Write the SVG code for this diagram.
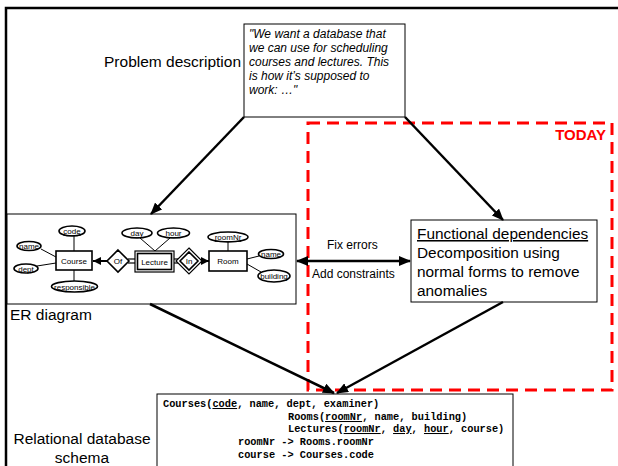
<svg xmlns="http://www.w3.org/2000/svg" width="618" height="466" viewBox="0 0 618 466">
<defs>
<marker id="ah" markerUnits="userSpaceOnUse" markerWidth="12" markerHeight="10" refX="11" refY="5" orient="auto-start-reverse">
<path d="M0,0 L12,5 L0,10 Z" fill="#000"/>
</marker>
<marker id="ahs" markerUnits="userSpaceOnUse" markerWidth="8" markerHeight="8" refX="8" refY="4" orient="auto">
<path d="M0,0 L8,4 L0,8 Z" fill="#000"/>
</marker>
</defs>
<style>
.t{font-family:"Liberation Sans",Arial,sans-serif;fill:#000}
.big{font-size:15.5px}
.q{font-size:12px;font-style:italic}
.sm{font-size:12px}
.er{font-size:8px}
.fdt{font-size:15.4px}
.mono{font-family:"Liberation Mono","Courier New",monospace;font-size:10.3px;font-weight:bold;fill:#000}
.box{fill:#fff;stroke:#000;stroke-width:1}
.conn{fill:none;stroke:#000;stroke-width:2.5}
.el{fill:#fff;stroke:#000;stroke-width:1.6}
.eline{stroke:#000;stroke-width:1;fill:none}
</style>
<rect width="618" height="466" fill="#fff"/>
<path d="M6,466 V8 H618" fill="none" stroke="#000" stroke-width="2.5"/>

<g id="problem">
<text class="t big" x="241" y="67" text-anchor="end">Problem description</text>
<rect class="box" x="244" y="24" width="161" height="93"/>
<text class="t q" x="249" y="38">"We want a database that</text>
<text class="t q" x="249" y="52">we can use for scheduling</text>
<text class="t q" x="249" y="66">courses and lectures. This</text>
<text class="t q" x="249" y="80">is how it’s supposed to</text>
<text class="t q" x="249" y="94">work: …"</text>
</g>

<g id="today">
<rect x="308" y="123" width="304" height="267" fill="none" stroke="#f00" stroke-width="3" stroke-dasharray="12,7"/>
<text class="t" x="606" y="140" text-anchor="end" style="font-size:15px;font-weight:bold;fill:#f00">TODAY</text>
</g>

<g id="er">
<rect class="box" x="7" y="214" width="289" height="90"/>
<text class="t big" x="10" y="320">ER diagram</text>
<line class="eline" x1="74" y1="236" x2="74" y2="251"/>
<line class="eline" x1="41" y1="249" x2="56" y2="257"/>
<line class="eline" x1="37" y1="266" x2="56" y2="263"/>
<line class="eline" x1="74" y1="270" x2="74" y2="281"/>
<line class="eline" x1="140" y1="238" x2="155" y2="251"/>
<line class="eline" x1="170" y1="238" x2="155" y2="251"/>
<line class="eline" x1="228" y1="242" x2="228" y2="251"/>
<line class="eline" x1="247" y1="259" x2="259" y2="256"/>
<line class="eline" x1="247" y1="264" x2="261" y2="272"/>
<line x1="107" y1="261" x2="93" y2="261" stroke="#000" stroke-width="2" marker-end="url(#ahs)"/>
<line x1="128" y1="259" x2="136" y2="259" stroke="#000" stroke-width="1.2"/>
<line x1="128" y1="263" x2="136" y2="263" stroke="#000" stroke-width="1.2"/>
<line x1="173" y1="259" x2="180" y2="259" stroke="#000" stroke-width="1.2"/>
<line x1="173" y1="263" x2="180" y2="263" stroke="#000" stroke-width="1.2"/>
<line x1="200" y1="261" x2="209" y2="261" stroke="#000" stroke-width="2" marker-end="url(#ahs)"/>
<rect x="56" y="251" width="36" height="19" fill="#fff" stroke="#000" stroke-width="1.6"/>
<text class="t er" x="74" y="264" text-anchor="middle">Course</text>
<rect x="135" y="251" width="39" height="21" fill="#fff" stroke="#000" stroke-width="1.2"/>
<rect x="137.5" y="253.5" width="34" height="16" fill="#fff" stroke="#000" stroke-width="1.6"/>
<text class="t er" x="154.5" y="264.5" text-anchor="middle">Lecture</text>
<rect x="209" y="251" width="38" height="20" fill="#fff" stroke="#000" stroke-width="1.6"/>
<text class="t er" x="228" y="264" text-anchor="middle">Room</text>
<path d="M118,250 L129,261 L118,272 L107,261 Z" fill="#fff" stroke="#000" stroke-width="1.6"/>
<text class="t er" x="118" y="264" text-anchor="middle">Of</text>
<path d="M189,248 L202,261 L189,274 L176,261 Z" fill="#fff" stroke="#000" stroke-width="1.2"/>
<path d="M189,252 L198,261 L189,270 L180,261 Z" fill="#fff" stroke="#000" stroke-width="1.6"/>
<text class="t er" x="189" y="264" text-anchor="middle">In</text>
<ellipse class="el" cx="72" cy="231" rx="13" ry="5"/>
<text class="t er" x="72" y="234" text-anchor="middle" text-decoration="underline">code</text>
<ellipse class="el" cx="29" cy="246" rx="12" ry="4.5"/>
<text class="t er" x="29" y="249" text-anchor="middle">name</text>
<ellipse class="el" cx="26" cy="268.5" rx="12" ry="4.5"/>
<text class="t er" x="26" y="271.5" text-anchor="middle">dept</text>
<ellipse class="el" cx="74.5" cy="286.5" rx="23" ry="5.5"/>
<text class="t er" x="74.5" y="289.5" text-anchor="middle">responsible</text>
<ellipse class="el" cx="137" cy="233" rx="15" ry="5"/>
<text class="t er" x="137" y="236" text-anchor="middle" text-decoration="underline">day</text>
<ellipse class="el" cx="173.5" cy="233" rx="16" ry="5"/>
<text class="t er" x="173.5" y="236" text-anchor="middle" text-decoration="underline">hour</text>
<ellipse class="el" cx="228" cy="237" rx="20" ry="5"/>
<text class="t er" x="228" y="240" text-anchor="middle" text-decoration="underline">roomNr</text>
<ellipse class="el" cx="271" cy="254" rx="12.5" ry="4.5"/>
<text class="t er" x="271" y="257" text-anchor="middle">name</text>
<ellipse class="el" cx="274" cy="276" rx="16" ry="6"/>
<text class="t er" x="274" y="279" text-anchor="middle">building</text>
</g>

<g id="fd">
<rect class="box" x="411" y="220" width="186" height="82"/>
<text class="t fdt" x="417" y="239" text-decoration="underline">Functional dependencies</text>
<text class="t fdt" x="417" y="258">Decomposition using</text>
<text class="t fdt" x="417" y="277">normal forms to remove</text>
<text class="t fdt" x="417" y="296">anomalies</text>
</g>

<g id="schema">
<rect class="box" x="157" y="394" width="356" height="80"/>
<text class="mono" x="163" y="407" xml:space="preserve">Courses(<tspan text-decoration="underline">code</tspan>, name, dept, examiner)</text>
<text class="mono" x="288" y="420" xml:space="preserve">Rooms(<tspan text-decoration="underline">roomNr</tspan>, name, building)</text>
<text class="mono" x="288" y="432" xml:space="preserve">Lectures(<tspan text-decoration="underline">roomNr</tspan>, <tspan text-decoration="underline">day</tspan>, <tspan text-decoration="underline">hour</tspan>, course)</text>
<text class="mono" x="238" y="445">roomNr -&gt; Rooms.roomNr</text>
<text class="mono" x="238" y="458">course -&gt; Courses.code</text>
<text class="t big" x="82" y="444" text-anchor="middle">Relational database</text>
<text class="t big" x="82" y="463" text-anchor="middle">schema</text>
</g>

<g id="connectors">
<line class="conn" x1="244" y1="117" x2="151" y2="214" marker-end="url(#ah)"/>
<line class="conn" x1="405" y1="117" x2="503" y2="220" marker-end="url(#ah)"/>
<line class="conn" x1="297" y1="261" x2="410" y2="261" marker-start="url(#ah)" marker-end="url(#ah)"/>
<text class="t sm" x="327" y="249">Fix errors</text>
<text class="t sm" x="312" y="278">Add constraints</text>
<line class="conn" x1="150" y1="304" x2="334" y2="393" marker-end="url(#ah)"/>
<line class="conn" x1="503" y1="302" x2="337" y2="393" marker-end="url(#ah)"/>
</g>
</svg>
